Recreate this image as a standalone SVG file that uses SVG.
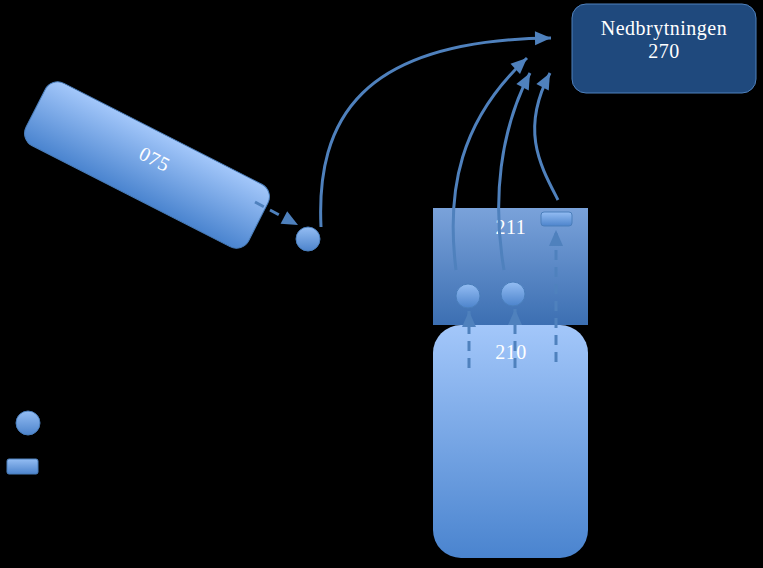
<svg xmlns="http://www.w3.org/2000/svg" width="763" height="568" viewBox="0 0 763 568">
<defs>
<linearGradient id="gBox" x1="0" y1="0" x2="0" y2="1">
<stop offset="0" stop-color="#a3c7fa"/>
<stop offset="1" stop-color="#4a84cf"/>
</linearGradient>
<linearGradient id="g211" x1="0" y1="0" x2="0" y2="1">
<stop offset="0" stop-color="#7aa2da"/>
<stop offset="1" stop-color="#3c6fb2"/>
</linearGradient>
<linearGradient id="gDot" x1="0" y1="0" x2="0" y2="1">
<stop offset="0" stop-color="#94bdf3"/>
<stop offset="1" stop-color="#4d84cc"/>
</linearGradient>
<marker id="ah" markerUnits="userSpaceOnUse" markerWidth="20" markerHeight="20" viewBox="0 0 20 20" refX="18" refY="10" orient="auto">
<path d="M2,3 L18,10 L2,17 Z" fill="#4f81bd"/>
</marker>
<style>
.lbl{font-family:"Liberation Serif","DejaVu Serif",serif;fill:#ffffff;font-size:20px;letter-spacing:0.5px;text-anchor:middle}
.con{fill:none;stroke:#4f81bd;stroke-width:3}
.dash{stroke-dasharray:10,7}
.dot{fill:url(#gDot);stroke:#4a7ebb;stroke-width:1}
</style>
</defs>
<rect width="763" height="568" fill="#000000"/>

<g id="n210">
<rect x="433" y="325" width="155" height="233" rx="28" fill="url(#gBox)"/>
<text class="lbl" x="511" y="359">210</text>
</g>
<g id="n211">
<rect x="433" y="208" width="155" height="117" fill="url(#g211)"/>
<text class="lbl" x="511" y="234">211</text>
</g>
<g id="n270">
<rect x="572" y="4" width="184" height="89" rx="14" fill="#1f497d" stroke="#4f81bd" stroke-width="1"/>
<text class="lbl" x="664" y="35">Nedbrytningen</text>
<text class="lbl" x="664" y="58">270</text>
</g>
<g id="n075" transform="translate(147,165) rotate(27)">
<rect x="-125" y="-35" width="250" height="70" rx="14" fill="url(#gBox)" stroke="#4a7ebb" stroke-width="1"/>
<text class="lbl" x="4" y="-2">075</text>
</g>
<g id="d1"><circle class="dot" cx="308" cy="239" r="12"/></g>
<g id="d2"><circle class="dot" cx="468" cy="296" r="12"/></g>
<g id="d3"><circle class="dot" cx="513" cy="294" r="12"/></g>
<g id="r1"><rect class="dot" x="541" y="212" width="31" height="14" rx="3"/></g>
<g id="legendDot"><circle class="dot" cx="28" cy="423" r="12"/></g>
<g id="legendRect"><rect class="dot" x="7" y="459" width="31" height="15" rx="2"/></g>

<g id="connectors">
<path class="con dash" d="M255,202 L298,225" marker-end="url(#ah)"/>
<path class="con" d="M321,227 C316,120 360,40 551,38" marker-end="url(#ah)"/>
<path class="con" d="M456,270 C446,190 460,120 527,58" marker-end="url(#ah)"/>
<path class="con" d="M504,270 C492,200 500,130 530,73" marker-end="url(#ah)"/>
<path class="con" d="M558,200 C540,165 520,130 550,73" marker-end="url(#ah)"/>
<path class="con dash" d="M469,368 L469,311" marker-end="url(#ah)"/>
<path class="con dash" d="M515,368 L515,309" marker-end="url(#ah)"/>
<path class="con dash" d="M556,362 L556,230" marker-end="url(#ah)"/>
</g>
</svg>
